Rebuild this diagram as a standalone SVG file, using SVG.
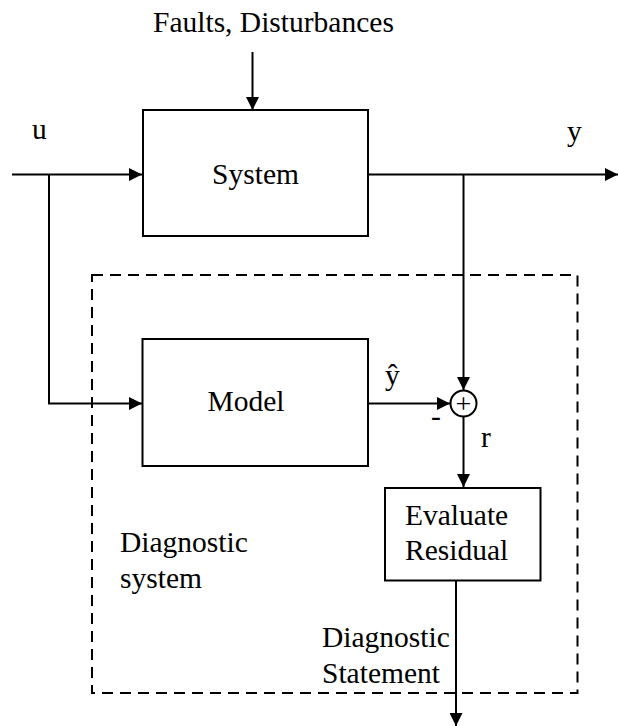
<svg xmlns="http://www.w3.org/2000/svg" width="618" height="726" viewBox="0 0 618 726">
<style>
text{font-family:"Liberation Serif","Times New Roman",serif;font-size:29.5px;fill:#000}
.box{fill:#fff;stroke:#000;stroke-width:2}
.ln{fill:none;stroke:#000;stroke-width:2}
.dash{fill:none;stroke:#000;stroke-width:2;stroke-dasharray:11,7}
</style>
<defs>
<marker id="ah" viewBox="0 0 13 13" refX="13" refY="6.5" markerWidth="13" markerHeight="13" markerUnits="userSpaceOnUse" orient="auto">
<path d="M0,0 L13,6.5 L0,13 Z" fill="#000"/>
</marker>
</defs>
<rect class="dash" x="92" y="275" width="485.5" height="418"/>
<g id="connectors">
<line class="ln" x1="252.5" y1="52" x2="252.5" y2="110" marker-end="url(#ah)"/>
<line class="ln" x1="12" y1="174.5" x2="142" y2="174.5" marker-end="url(#ah)"/>
<polyline class="ln" points="49,174.5 49,403.5 142,403.5" marker-end="url(#ah)"/>
<line class="ln" x1="368" y1="174.5" x2="618" y2="174.5" marker-end="url(#ah)"/>
<line class="ln" x1="463.5" y1="174.5" x2="463.5" y2="390" marker-end="url(#ah)"/>
<line class="ln" x1="368" y1="403.5" x2="450" y2="403.5" marker-end="url(#ah)"/>
<line class="ln" x1="463.5" y1="416" x2="463.5" y2="487" marker-end="url(#ah)"/>
<line class="ln" x1="456" y1="581" x2="456" y2="726" marker-end="url(#ah)"/>
</g>
<g id="faults"><text x="153" y="32">Faults, Disturbances</text></g>
<g id="u"><text x="32" y="139">u</text></g>
<g id="y"><text x="567" y="141">y</text></g>
<g id="system">
<rect class="box" x="143" y="110" width="225" height="126"/>
<text x="255.5" y="184" text-anchor="middle">System</text>
</g>
<g id="model">
<rect class="box" x="142.5" y="339" width="225.5" height="127"/>
<text x="246" y="411" text-anchor="middle">Model</text>
</g>
<g id="yhat"><text x="385" y="385">ŷ</text></g>
<g id="minus"><text x="431" y="426">-</text></g>
<g id="sum">
<circle cx="463.5" cy="403.5" r="13" fill="#fff" stroke="#000" stroke-width="2"/>
<text x="463.5" y="413" text-anchor="middle" style="font-size:28px">+</text>
</g>
<g id="r"><text x="481" y="447">r</text></g>
<g id="evaluate">
<rect class="box" x="385" y="488" width="155.5" height="92.5"/>
<text x="405" y="525">Evaluate</text>
<text x="405" y="560">Residual</text>
</g>
<g id="diag-system"><text x="120" y="552">Diagnostic</text><text x="120" y="588">system</text></g>
<g id="diag-statement"><text x="322" y="647">Diagnostic</text><text x="322" y="682.5">Statement</text></g>
</svg>
